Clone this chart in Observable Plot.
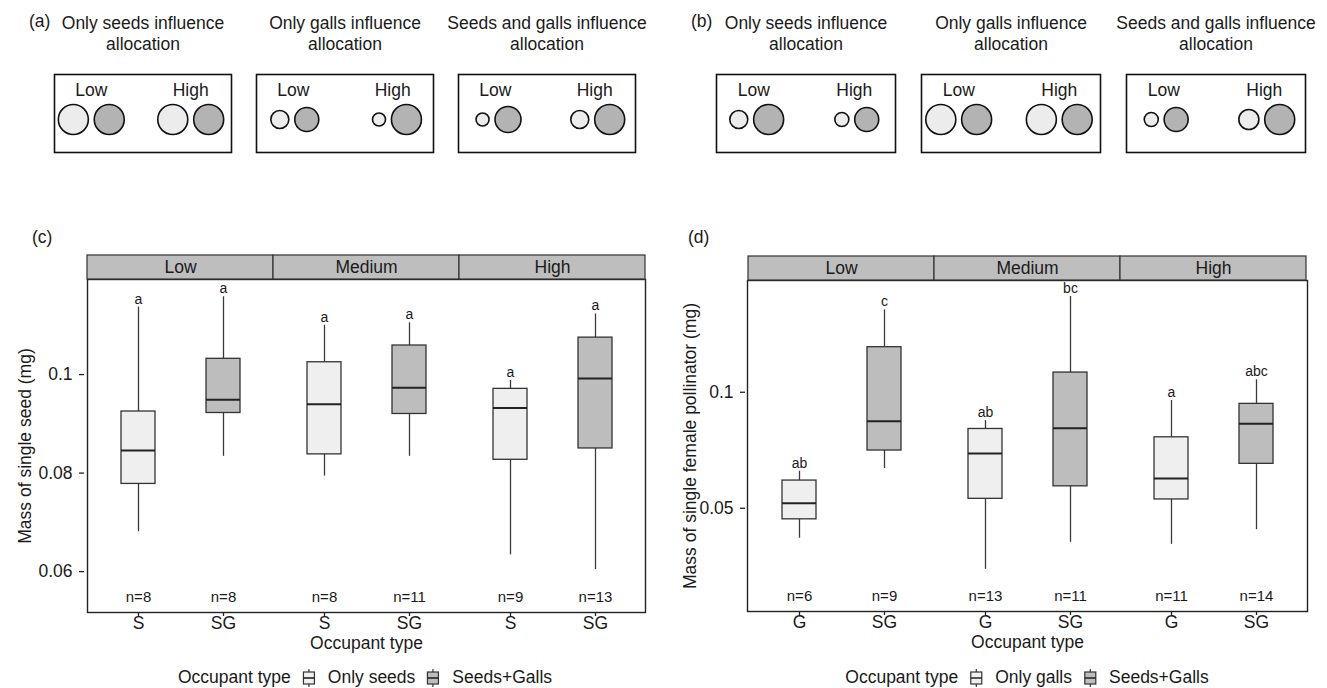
<!DOCTYPE html>
<html>
<head>
<meta charset="utf-8">
<script src="https://cdn.jsdelivr.net/npm/d3@7"></script>
<script src="https://cdn.jsdelivr.net/npm/@observablehq/plot@0.6"></script>
<style>
  body { margin: 0; background: #fff; }
  #page { position: relative; width: 1327px; height: 688px; overflow: hidden;
          font-family: "Liberation Sans", Arial, sans-serif; color: #1a1a1a; }
  .abs { position: absolute; }
  .tag { font-size: 17.5px; line-height: 1; }
  .legend { display: flex; align-items: center; font-size: 17.5px; white-space: nowrap;
            transform: translateX(-50%); line-height: 1; }
  .legend svg { margin: 0 12px 0 11px; }
</style>
</head>
<body>
<div id="page"></div>
<script>
// ---------- Schematic panels (a) and (b): relative allocation at low / high density ----------
const scenarios = ["Only seeds influence\nallocation", "Only galls influence\nallocation", "Seeds and galls influence\nallocation"];
const topLevels = ["Low", "High"];
// circle radii, ordered scenario by scenario, Low then High
const aLightR = [15, 15, 9, 6.5, 6.5, 9];
const aDarkR  = [15, 15, 12, 15, 13, 15];
const bLightR = [9, 7, 15, 15, 7, 10];
const bDarkR  = [15, 12, 15, 15, 12, 15];

// ---------- Panel (c): mass of a single seed ----------
const densityLevels = ["Low", "Medium", "High"];
const seedLevel   = ["Low", "Low", "Medium", "Medium", "High", "High"];
const seedOcc     = ["S", "SG", "S", "SG", "S", "SG"];
const seedLower   = [0.0681, 0.0834, 0.0794, 0.0834, 0.0634, 0.0604];
const seedQ1      = [0.0778, 0.0922, 0.0838, 0.0920, 0.0827, 0.0850];
const seedMedian  = [0.0846, 0.0949, 0.0940, 0.0973, 0.0932, 0.0992];
const seedQ3      = [0.0925, 0.1032, 0.1025, 0.1059, 0.0971, 0.1075];
const seedUpper   = [0.1137, 0.1158, 0.1100, 0.1105, 0.0988, 0.1123];
const seedLetters = ["a", "a", "a", "a", "a", "a"];
const seedN       = [8, 8, 8, 11, 9, 13];
const seedTicks   = [0.06, 0.08, 0.1];

// ---------- Panel (d): mass of a single female pollinator ----------
const waspLevel   = ["Low", "Low", "Medium", "Medium", "High", "High"];
const waspOcc     = ["G", "SG", "G", "SG", "G", "SG"];
const waspLower   = [0.0418, 0.0634, 0.0347, 0.0408, 0.0403, 0.0440];
const waspQ1      = [0.0468, 0.0706, 0.0529, 0.0570, 0.0527, 0.0652];
const waspMedian  = [0.0515, 0.0841, 0.0694, 0.0806, 0.0597, 0.0828];
const waspQ3      = [0.0590, 0.1309, 0.0803, 0.1125, 0.0764, 0.0933];
const waspUpper   = [0.0624, 0.1636, 0.0845, 0.1772, 0.0952, 0.1077];
const waspLetters = ["ab", "c", "ab", "bc", "a", "abc"];
const waspN       = [6, 9, 13, 11, 11, 14];
const waspTicks   = [0.05, 0.1];

const FONT = "Liberation Sans, Arial, sans-serif";
const FS = 17.5;
const INK = "#1a1a1a";
const LIGHT = "#efefef";
const DARK = "#bdbdbd";
const page = document.getElementById("page");

function place(node, left, top) {
  node.classList.add("abs");
  node.style.left = left + "px";
  node.style.top = top + "px";
  page.appendChild(node);
  return node;
}
function tag(text, left, top) {
  const d = document.createElement("div");
  d.className = "tag";
  d.textContent = text;
  return place(d, left, top);
}

// Schematic: three framed boxes, each with a light/dark circle pair per density level
function schematic(lightR, darkR, opts) {
  const {width, ml, mr, padInner} = opts;
  const gap = 6;
  const xDomain = [-0.37, 1.41];
  const facetW = (width - ml - mr) * (1 - padInner) / (3 - padInner);
  const pxPerUnit = facetW / (xDomain[1] - xDomain[0]);
  const circles = [];
  const labels = [];
  scenarios.forEach((s, i) => topLevels.forEach((lv, j) => {
    const a = lightR[i * 2 + j], b = darkR[i * 2 + j];
    const half = (a + b + gap) / 2 / pxPerUnit;
    circles.push({s, lv, kind: "light", r: a, x: j - half});
    circles.push({s, lv, kind: "dark", r: b, x: j + half});
    labels.push({s, lv, x: j});
  }));
  return Plot.plot({
    width, height: 160, marginLeft: ml, marginRight: mr, marginTop: 74, marginBottom: 8,
    style: {fontFamily: FONT, color: INK, background: "transparent", overflow: "visible"},
    fx: {domain: scenarios, paddingInner: padInner, paddingOuter: 0, axis: null},
    x: {domain: xDomain, axis: null},
    y: {axis: null},
    r: {type: "linear", domain: [0, 20], range: [0, 20]},
    marks: [
      Plot.frame({stroke: "#111", strokeWidth: 1.6}),
      Plot.dot(circles.filter(d => d.kind === "light"), {fx: "s", x: "x", r: "r", dy: 6, fill: "#ececec", stroke: "#111", strokeWidth: 1.6}),
      Plot.dot(circles.filter(d => d.kind === "dark"), {fx: "s", x: "x", r: "r", dy: 6, fill: "#b3b3b3", stroke: "#111", strokeWidth: 1.6}),
      Plot.text(labels, {fx: "s", x: "x", text: "lv", frameAnchor: "top", lineAnchor: "middle", dy: 16, fontSize: FS, fill: INK}),
      Plot.text(scenarios, {fx: d => d, text: d => d, frameAnchor: "top", dy: -42, lineAnchor: "middle", lineHeight: 1.25, fontSize: FS, fill: INK})
    ]
  });
}

// Facet strips above a box-plot panel
function strips(width, ml, mr) {
  return Plot.plot({
    width, height: 26, marginLeft: ml, marginRight: mr, marginTop: 1, marginBottom: 1,
    style: {fontFamily: FONT, color: INK, background: "transparent", overflow: "visible"},
    x: {domain: densityLevels, padding: 0, axis: null},
    marks: [
      Plot.cell(densityLevels, {x: d => d, fill: "#bebebe", stroke: "#333", strokeWidth: 1.2}),
      Plot.text(densityLevels, {x: d => d, text: d => d, fontSize: FS, fill: INK})
    ]
  });
}

// Border drawn around the whole faceted panel area
function panelBorder(cfg) {
  return Plot.plot({
    width: cfg.width, height: cfg.mt + cfg.plotH + cfg.mb,
    marginLeft: cfg.ml, marginRight: cfg.mr, marginTop: cfg.mt, marginBottom: cfg.mb,
    style: {background: "transparent", overflow: "visible"},
    marks: [Plot.frame({stroke: "#222", strokeWidth: 1.4})]
  });
}

// Faceted box plots built from summary statistics
function boxPanel(cfg) {
  const rows = cfg.level.map((lv, i) => ({
    level: lv, occ: cfg.occ[i], lower: cfg.lower[i], q1: cfg.q1[i], median: cfg.median[i],
    q3: cfg.q3[i], upper: cfg.upper[i], letter: cfg.letters[i], n: cfg.n[i]
  }));
  const single = rows.filter(d => d.occ !== "SG");
  const both = rows.filter(d => d.occ === "SG");
  const whisker = {stroke: "#3a3a3a", strokeWidth: 1.3};
  const box = {stroke: "#333", strokeWidth: 1.3};
  return Plot.plot({
    width: cfg.width, height: cfg.mt + cfg.plotH + cfg.mb,
    marginLeft: cfg.ml, marginRight: cfg.mr, marginTop: cfg.mt, marginBottom: cfg.mb,
    style: {fontFamily: FONT, color: INK, background: "transparent", overflow: "visible"},
    fx: {domain: densityLevels, padding: 0, axis: null},
    x: {domain: [cfg.occ[0], "SG"], paddingInner: 0.6, paddingOuter: 0.394, axis: null},
    y: {type: cfg.yType, domain: cfg.yDomain, axis: null},
    marks: [
      Plot.axisY({ticks: cfg.ticks, tickFormat: d => String(d), tickSize: 5, tickPadding: 7, dx: -3,
                  fontSize: FS, stroke: "#222", strokeWidth: 1.3, label: null}),
      Plot.axisX({tickSize: 4, tickPadding: 0, fontSize: FS, stroke: "#222", strokeWidth: 1.3, label: null}),
      Plot.text([cfg.yLabel], {fx: () => "Low", text: d => d, frameAnchor: "left", rotate: -90,
                               dx: -cfg.yTitleOffset, textAnchor: "middle", lineAnchor: "middle", fontSize: FS, fill: INK}),
      Plot.ruleX(rows, {fx: "level", x: "occ", y1: "lower", y2: "q1", ...whisker}),
      Plot.ruleX(rows, {fx: "level", x: "occ", y1: "q3", y2: "upper", ...whisker}),
      Plot.barY(single, {fx: "level", x: "occ", y1: "q1", y2: "q3", fill: LIGHT, ...box}),
      Plot.barY(both, {fx: "level", x: "occ", y1: "q1", y2: "q3", fill: DARK, ...box}),
      Plot.tickY(rows, {fx: "level", x: "occ", y: "median", stroke: "#222", strokeWidth: 2}),
      Plot.text(rows, {fx: "level", x: "occ", y: "upper", text: "letter", dy: -8, fontSize: 14, fill: INK}),
      Plot.text(rows, {fx: "level", x: "occ", text: d => "n=" + d.n, frameAnchor: "bottom", lineAnchor: "middle", dy: -15, fontSize: 15, fill: INK}),
      Plot.text(["Occupant type"], {fx: () => "Medium", text: d => d, frameAnchor: "bottom", lineAnchor: "middle", dy: 31, fontSize: FS, fill: INK})
    ]
  });
}

function boxKey(fill) {
  const ns = "http://www.w3.org/2000/svg";
  const s = document.createElementNS(ns, "svg");
  s.setAttribute("width", 14); s.setAttribute("height", 18);
  s.innerHTML = `<line x1="7" y1="0" x2="7" y2="3" stroke="#333" stroke-width="1.2"/>
    <rect x="1.5" y="3" width="11" height="12" fill="${fill}" stroke="#333" stroke-width="1.2"/>
    <line x1="1.5" y1="9" x2="12.5" y2="9" stroke="#222" stroke-width="1.6"/>
    <line x1="7" y1="15" x2="7" y2="18" stroke="#333" stroke-width="1.2"/>`;
  return s;
}
function legend(singleLabel, centerX, top) {
  const d = document.createElement("div");
  d.className = "legend";
  const t0 = document.createElement("span"); t0.textContent = "Occupant type";
  const t1 = document.createElement("span"); t1.textContent = singleLabel;
  const t2 = document.createElement("span"); t2.textContent = "Seeds+Galls";
  d.append(t0, boxKey(LIGHT), t1, boxKey(DARK), t2);
  return place(d, centerX, top);
}

// ---------- assemble ----------
place(schematic(aLightR, aDarkR, {width: 660, ml: 53, mr: 24, padInner: 0.125}), 0, 0);
place(schematic(bLightR, bDarkR, {width: 667, ml: 55, mr: 21, padInner: 0.125}), 660, 0);
tag("(a)", 29, 13);
tag("(b)", 691, 13);

const cCfg = {
  level: seedLevel, occ: seedOcc, lower: seedLower, q1: seedQ1, median: seedMedian, q3: seedQ3,
  upper: seedUpper, letters: seedLetters, n: seedN, ticks: seedTicks,
  yType: "linear", yDomain: [0.0517, 0.1193], yLabel: "Mass of single seed (mg)", yTitleOffset: 62,
  width: 660, ml: 87, mr: 15, mt: 10, plotH: 333, mb: 45
};
place(boxPanel(cCfg), 0, 269);
place(panelBorder(cCfg), 0, 269);
place(strips(660, 87, 15), 0, 254);
tag("(c)", 32, 229);

const dCfg = {
  level: waspLevel, occ: waspOcc, lower: waspLower, q1: waspQ1, median: waspMedian, q3: waspQ3,
  upper: waspUpper, letters: waspLetters, n: waspN, ticks: waspTicks,
  yType: "log", yDomain: [0.02698, 0.195], yLabel: "Mass of single female pollinator (mg)", yTitleOffset: 58,
  width: 667, ml: 87, mr: 20, mt: 10, plotH: 331, mb: 45
};
place(boxPanel(dCfg), 660, 270);
place(panelBorder(dCfg), 660, 270);
place(strips(667, 87, 20), 660, 255);
tag("(d)", 688, 229);

legend("Only seeds", 365, 669);
legend("Only galls", 1027, 669);
</script>
</body>
</html>
